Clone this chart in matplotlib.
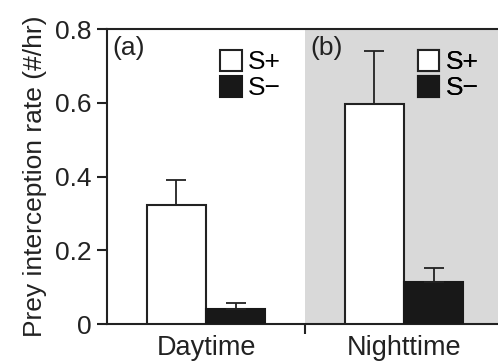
import matplotlib
matplotlib.use("Agg")
import matplotlib.pyplot as plt
import numpy as np

plt.rcParams['font.family'] = ['Liberation Sans', 'DejaVu Sans']

periods = ["Daytime", "Nighttime"]
series = ["S+", "S\u2212"]
s_plus = [0.323, 0.597]
s_plus_err = [0.067, 0.143]
s_minus = [0.041, 0.114]
s_minus_err = [0.016, 0.038]
panel_labels = ["(a)", "(b)"]

fig = plt.figure(figsize=(4.98, 3.63), dpi=100)
ax = fig.add_axes([0.2149, 0.1074, 0.7851, 0.8126])

x = np.arange(len(periods))
w = 0.3
ax.axvspan(0.5, 1.6, color='#d9d9d9', zorder=0, lw=0)

ek = dict(elinewidth=1.3, capthick=1.3, capsize=7, ecolor='#222222')
b1 = ax.bar(x - w/2, s_plus, w, color='white', edgecolor='#222222', lw=1.5, zorder=3,
            yerr=[np.zeros(2), s_plus_err], error_kw=ek, label=series[0])
b2 = ax.bar(x + w/2, s_minus, w, color='#181818', edgecolor='#181818', lw=1.5, zorder=3,
            yerr=[np.zeros(2), s_minus_err], error_kw=ek, label=series[1])

ax.set_xlim(-0.5, 1.475)
ax.set_ylim(0, 0.8)
ax.set_yticks([0, 0.2, 0.4, 0.6, 0.8])
ax.set_yticklabels(["0", "0.2", "0.4", "0.6", "0.8"])
ax.set_xticks([0.5])
ax.set_xticklabels([""])
ax.set_xticks(x, minor=True)
ax.set_xticklabels(periods, minor=True)
ax.tick_params(axis='x', which='minor', length=0, labelsize=19.5, pad=8, colors='#222222')
ax.tick_params(axis='x', which='major', length=7, width=1.5, direction='out', color='#222222')
ax.tick_params(axis='y', length=7, width=1.5, labelsize=19, pad=4, colors='#222222')
ax.set_ylabel("Prey interception rate (#/hr)", fontsize=19, color='#222222', labelpad=6)

for s in ['left', 'bottom', 'top']:
    ax.spines[s].set_linewidth(1.5)
    ax.spines[s].set_color('#222222')
ax.spines['right'].set_visible(False)

for i, lab in enumerate(panel_labels):
    ax.text(i - 0.475, 0.782, lab, fontsize=19, va='top', ha='left', color='#222222')

for anchor in [(0.29, 0.93), (0.795, 0.93)]:
    leg = ax.legend(handles=[b1, b2], loc='upper left', bbox_to_anchor=anchor,
                    frameon=False, fontsize=19, handlelength=0.8, handleheight=0.85,
                    handletextpad=0.25, labelspacing=0.05, borderpad=0, borderaxespad=0)
    ax.add_artist(leg)

fig.savefig("out.png", dpi=100)
